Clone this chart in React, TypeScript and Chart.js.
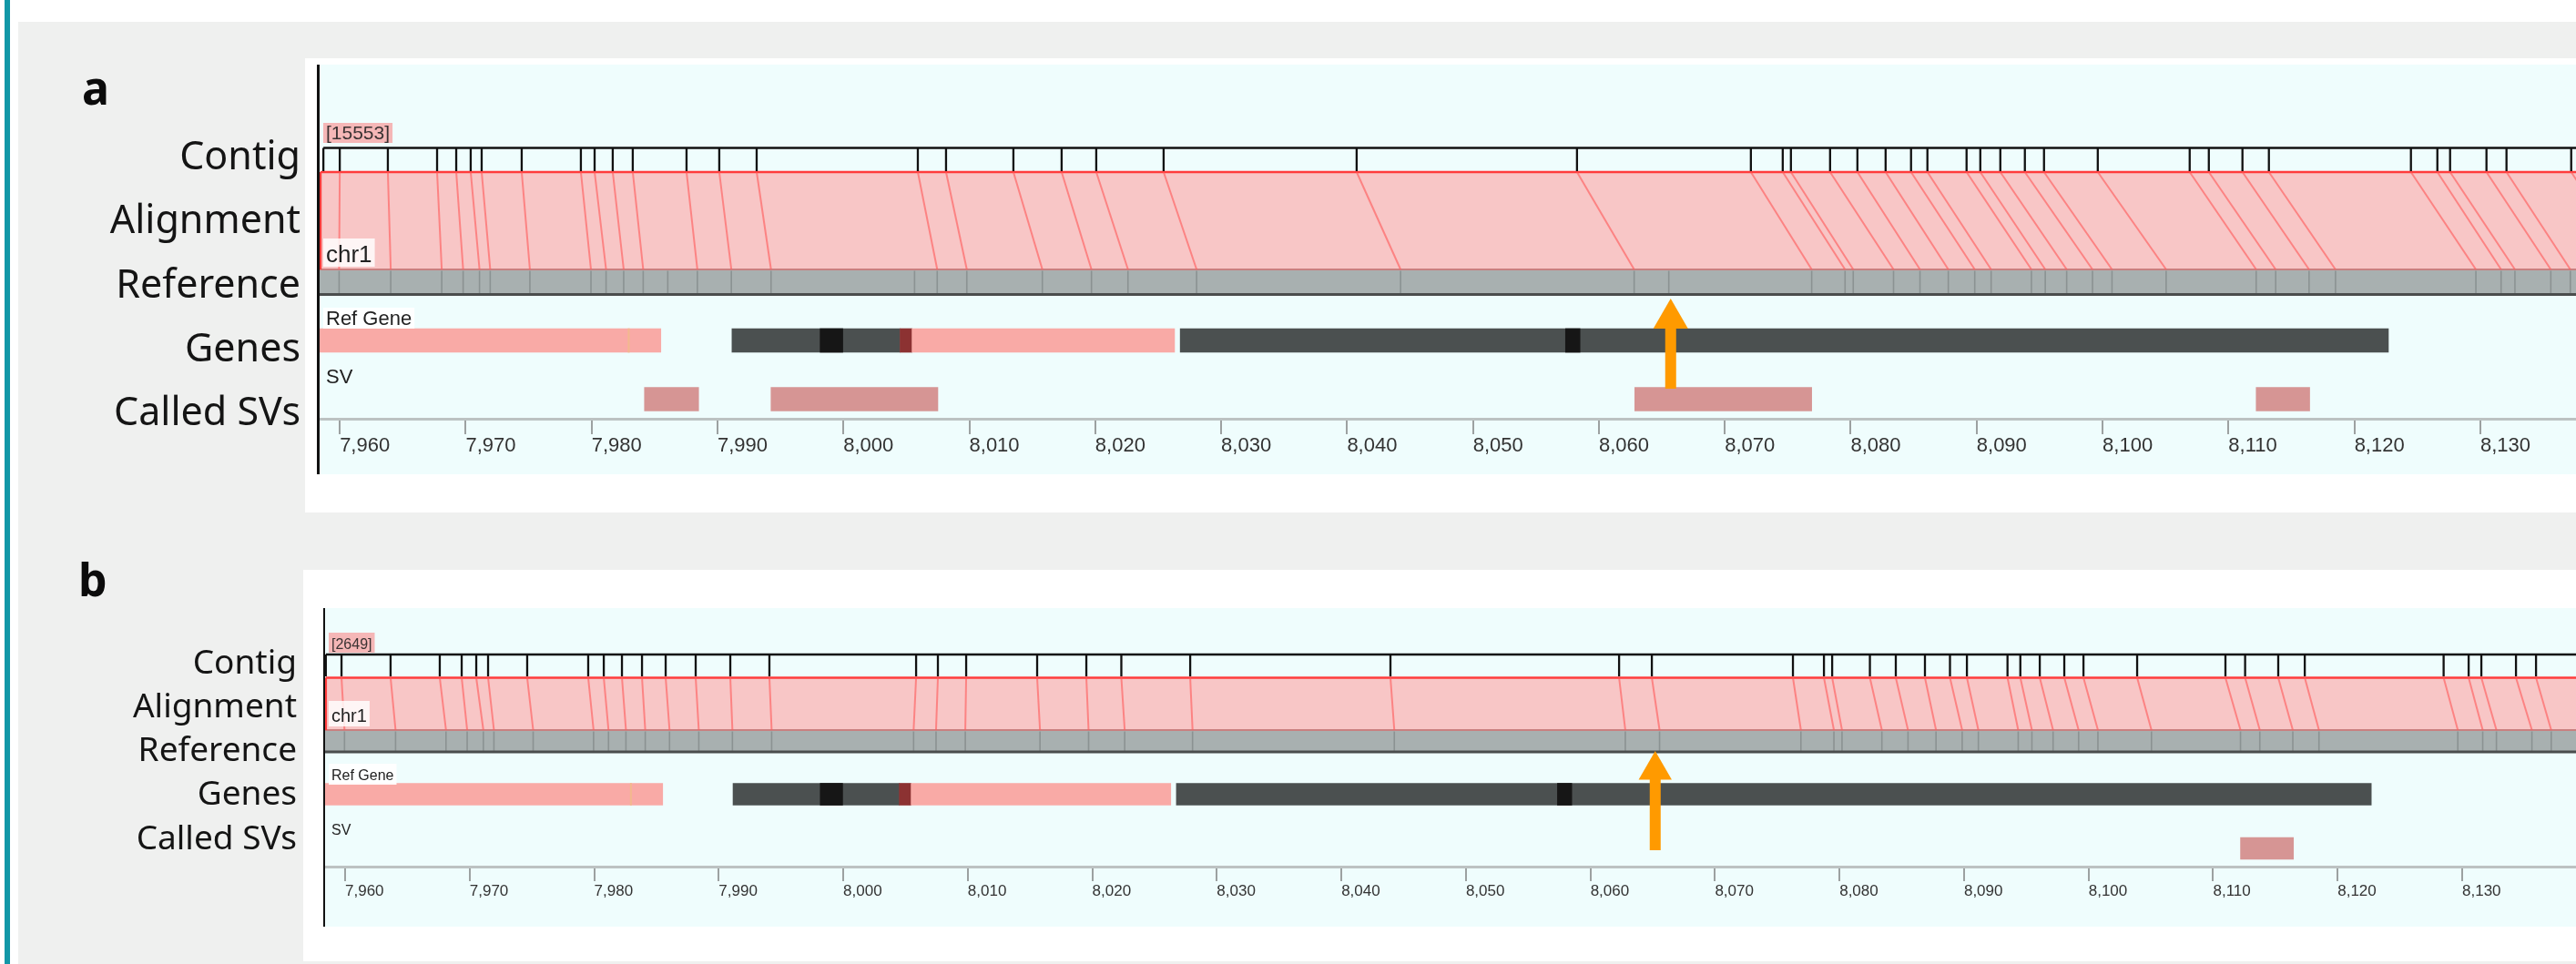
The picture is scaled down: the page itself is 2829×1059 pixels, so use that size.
import React, { useEffect, useRef } from 'react';
import { Chart, registerables } from 'chart.js';

Chart.register(...registerables);

// ---------------- data (positions in kb along chr1) ----------------
const trackNames = ['Contig', 'Alignment', 'Reference', 'Genes', 'Called SVs'];

// reference label sites (bottom of the alignment)
const refSites = [
  7959.95, 7964.05, 7968.1, 7969.8, 7971.1, 7971.95, 7975.1, 7979.95, 7981.15, 7982.55,
  7984.1, 7986.05, 7988.4, 7991.1, 7994.25, 8005.65, 8007.45, 8009.8, 8015.8, 8019.7,
  8022.6, 8028.05, 8044.25, 8062.8, 8065.55, 8076.9, 8079.55, 8080.2, 8083.4, 8085.5,
  8087.75, 8089.85, 8091.15, 8094.35, 8095.45, 8097.15, 8099.2, 8100.75, 8105.05, 8112.2,
  8113.75, 8116.4, 8118.5, 8129.65, 8131.65, 8132.75, 8135.6, 8137.15, 8142.3,
];
// matching contig label sites, panel a (null = site missing in contig)
const contigSitesA = [
  7960.0, 7963.82, 7967.73, 7969.25, 7970.4, 7971.27, 7974.45, 7979.15, 7980.24, 7981.68,
  7983.27, null, 7987.54, 7990.14, 7993.11, null, 8005.91, 8008.15, 8013.5, 8017.33,
  8020.08, 8025.43, 8040.76, 8058.26, null, 8072.07, 8074.6, 8075.25, 8078.36, 8080.53,
  8082.77, 8084.79, 8086.09, 8089.2, 8090.29, 8091.88, 8093.83, 8095.35, 8099.62, 8106.92,
  8108.44, 8111.11, 8113.21, 8124.49, 8126.59, 8127.6, 8130.49, 8132.08, 8137.22,
];
// matching contig label sites, panel b
const contigSitesB = [
  7959.71, 7963.65, 7967.6, 7969.36, 7970.53, 7971.48, 7974.62, 7979.52, 7980.77, 7982.23,
  7983.84, 7985.74, 7988.15, 7990.93, 7994.07, 8005.85, 8007.6, 8009.87, 8015.57, 8019.52,
  8022.33, 8027.86, 8043.94, 8062.3, 8064.93, 8076.26, 8078.75, 8079.41, 8082.44, 8084.52,
  8086.86, 8088.87, 8090.23, 8093.49, 8094.52, 8096.08, 8098.05, 8099.59, 8103.9, 8110.99,
  8112.57, 8115.23, 8117.36, 8128.51, 8130.52, 8131.54, 8134.32, 8135.93, null,
];
const contigStartA = 7958.7;
const contigStartB = 7958.45;
const alignStartA = 7958.47;
const alignStartB = 7958.45;
const contigIdA = '[15553]';
const contigIdB = '[2649]';

// Ref Gene features
const geneStarts = [7950.0, 7982.9, 7991.15, 7998.15, 8004.5, 8005.45, 8026.75, 8057.35];
const geneEnds = [7985.5, 7983.0, 8004.5, 7999.95, 8005.45, 8026.3, 8122.7, 8058.5];
const geneParts = ['utr', 'site', 'exon', 'cds', 'edge', 'utr', 'exon', 'cds'];

// called SVs
const svStartsA = [7984.2, 7994.25, 8062.85, 8112.2];
const svEndsA = [7988.5, 8007.5, 8076.9, 8116.45];
const svStartsB = [8112.2];
const svEndsB = [8116.45];

// highlighted site (arrow)
const arrowSiteA = 8065.7;
const arrowSiteB = 8065.2;

// visible windows
const viewA = [7958.4, 8137.6];
const viewB = [7958.39, 8139.14];

// ---------------- styles ----------------
const partColors: Record<string, string> = {
  utr: '#f9aaa6',
  site: '#f3b88e',
  exon: '#4b5050',
  cds: '#161616',
  edge: '#8c3232',
};
const SV_COLOR = '#d69594';
const ORANGE = '#ff9a00';

type Panel = any;

const PANEL_A: Panel = {
  letter: 'a', letterX: 90, letterBase: 115, letterSize: 50,
  canvasTop: 0, canvasHeight: 564,
  areaLeft: 351, areaTop: 71, areaBottom: 460, cyanBottom: 521, axisX: 349.5, axisW: 3,
  rowRight: 330, rowSize: 43, rowBases: [186, 256, 327, 397, 467],
  contigTop: 162.5, tickBottom: 188, alignTop: 189, alignBottom: 296,
  refTop: 296.5, refBottom: 322, refBottomLine: 323.5,
  geneMid: 374, svMid: 438.5, barThickness: 26,
  idX: 355, idTop: 135, idBottom: 157, idBase: 153, idFont: 21,
  chrX: 355, chrTop: 262, chrBottom: 293, chrBase: 288, chrFont: 26,
  glX: 355, glTop: 338, glBottom: 361, glBase: 357, glFont: 22,
  svX: 355, svBase: 421, svFont: 22,
  arrowTip: 328, arrowR: 22, arrowBottom: 427, shaftW: 12,
  tickLen: 17, tickFont: 22, tickPad: 0,
  view: viewA, contig: contigSitesA, contigStart: contigStartA, alignStart: alignStartA,
  svStarts: svStartsA, svEnds: svEndsA, arrow: arrowSiteA, contigId: contigIdA,
};

const PANEL_B: Panel = {
  letter: 'b', letterX: 86, letterBase: 655, letterSize: 50,
  canvasTop: 564, canvasHeight: 495,
  areaLeft: 357, areaTop: 668, areaBottom: 952, cyanBottom: 1018, axisX: 356, axisW: 2,
  rowRight: 326, rowSize: 37, rowBases: [740, 788, 836, 884, 933],
  contigTop: 719, tickBottom: 743, alignTop: 744.5, alignBottom: 802,
  refTop: 802.5, refBottom: 825, refBottomLine: 826,
  geneMid: 872.5, svMid: 932, barThickness: 24,
  idX: 361, idTop: 695, idBottom: 717, idBase: 713, idFont: 16,
  chrX: 361, chrTop: 770, chrBottom: 798, chrBase: 793, chrFont: 20,
  glX: 361, glTop: 839, glBottom: 862, glBase: 857, glFont: 16,
  svX: 361, svBase: 917, svFont: 16,
  arrowTip: 825, arrowR: 21, arrowBottom: 934, shaftW: 12,
  tickLen: 16, tickFont: 17, tickPad: 1,
  view: viewB, contig: contigSitesB, contigStart: contigStartB, alignStart: alignStartB,
  svStarts: svStartsB, svEnds: svEndsB, arrow: arrowSiteB, contigId: contigIdB,
};

const SANS = '"Liberation Sans", Arial, sans-serif';
const LABEL_FONT = '"Noto Sans", "Open Sans", sans-serif';

function lineDs(data: any[], color: string, width: number, order: number, extra: any = {}) {
  return {
    type: 'line',
    data,
    borderColor: color,
    borderWidth: width,
    pointRadius: 0,
    pointHoverRadius: 0,
    tension: 0,
    spanGaps: false,
    fill: false,
    borderCapStyle: 'butt',
    order,
    ...extra,
  };
}

function makeConfig(P: Panel) {
  const u = (py: number) => py - P.areaTop;
  const [xMin, xMax] = P.view;

  const contigTicks: any[] = [];
  [P.contigStart, ...P.contig.filter((c: any) => c !== null)].forEach((c: number) => {
    contigTicks.push({ x: c, y: u(P.contigTop) }, { x: c, y: u(P.tickBottom) }, { x: c, y: null });
  });

  const connectors: any[] = [];
  refSites.forEach((r, i) => {
    const c = P.contig[i];
    if (c === null || c === undefined) return;
    connectors.push({ x: c, y: u(P.alignTop) }, { x: r, y: u(P.alignBottom) }, { x: r, y: null });
  });

  const refLines: any[] = [];
  refSites.forEach((r) => {
    refLines.push({ x: r, y: u(P.refTop + 1) }, { x: r, y: u(P.refBottom) }, { x: r, y: null });
  });

  const feats: any[] = [];
  const featColors: string[] = [];
  geneStarts.forEach((s, i) => {
    feats.push({ x: [s, geneEnds[i]], y: u(P.geneMid) });
    featColors.push(partColors[geneParts[i]]);
  });
  P.svStarts.forEach((s: number, i: number) => {
    feats.push({ x: [s, P.svEnds[i]], y: u(P.svMid) });
    featColors.push(SV_COLOR);
  });

  const headCenter = P.arrowTip + P.arrowR;
  const headBase = headCenter + P.arrowR / 2;

  const datasets: any[] = [
    // alignment block
    lineDs(
      [{ x: P.alignStart, y: u(P.alignTop) }, { x: xMax + 5, y: u(P.alignTop) }],
      '#ff3c3c', 2.5, 100,
      { fill: { value: u(P.alignBottom) }, backgroundColor: '#f8c6c6' }
    ),
    // reference bar
    lineDs(
      [{ x: xMin - 5, y: u(P.refTop) }, { x: xMax + 5, y: u(P.refTop) }],
      'rgba(0,0,0,0)', 0, 98,
      { fill: { value: u(P.refBottom) }, backgroundColor: '#a8b0b0' }
    ),
    // genes + SVs
    {
      type: 'bar',
      indexAxis: 'y',
      data: feats,
      backgroundColor: featColors,
      borderWidth: 0,
      barThickness: P.barThickness,
      grouped: true,
      order: 90,
    },
    lineDs([{ x: xMin - 5, y: u(P.alignBottom) }, { x: xMax + 5, y: u(P.alignBottom) }], '#c98080', 2, 85),
    lineDs(refLines, '#8b9292', 1.6, 80),
    lineDs([{ x: P.alignStart, y: u(P.alignTop) }, { x: P.alignStart, y: u(P.alignBottom) }], '#ff3c3c', 2.5, 75),
    lineDs(connectors, 'rgba(255, 90, 90, 0.62)', 2, 70),
    lineDs([{ x: xMin - 5, y: u(P.refBottomLine) }, { x: xMax + 5, y: u(P.refBottomLine) }], '#4a4d4d', 3, 60),
    lineDs([{ x: P.contigStart, y: u(P.contigTop) }, { x: xMax + 5, y: u(P.contigTop) }], '#111111', 2.5, 50),
    lineDs(contigTicks, '#111111', 2.3, 45),
    lineDs([{ x: P.arrow, y: u(headBase - 1) }, { x: P.arrow, y: u(P.arrowBottom) }], ORANGE, P.shaftW, 20),
    {
      type: 'line',
      data: [{ x: P.arrow, y: u(headCenter) }],
      showLine: false,
      pointStyle: 'triangle',
      pointRadius: P.arrowR,
      pointHoverRadius: P.arrowR,
      pointBackgroundColor: ORANGE,
      pointBorderWidth: 0,
      pointBorderColor: ORANGE,
      order: 10,
    },
  ];

  const decor = {
    id: 'decor' + P.letter,
    beforeDraw(chart: any) {
      const ctx = chart.ctx;
      const ys = chart.scales.y;
      const Y = (py: number) => ys.getPixelForValue(u(py));
      const ca = chart.chartArea;
      ctx.save();
      ctx.fillStyle = '#effdfd';
      ctx.fillRect(ca.left, Y(P.areaTop), chart.width - ca.left, Y(P.cyanBottom) - Y(P.areaTop));
      ctx.restore();
    },
    afterDatasetsDraw(chart: any) {
      const ctx = chart.ctx;
      const ys = chart.scales.y;
      const Y = (py: number) => ys.getPixelForValue(u(py));
      const tag = (text: string, x: number, top: number, bottom: number, base: number, size: number, bg: string | null, color: string) => {
        ctx.font = `${size}px ${SANS}`;
        const w = ctx.measureText(text).width;
        const pad = 3;
        if (bg) {
          ctx.fillStyle = bg;
          ctx.fillRect(x, Y(top), w + pad * 2, Y(bottom) - Y(top));
        }
        ctx.fillStyle = color;
        ctx.textAlign = 'left';
        ctx.textBaseline = 'alphabetic';
        ctx.fillText(text, x + pad, Y(base));
      };
      ctx.save();
      tag(P.contigId, P.idX, P.idTop, P.idBottom, P.idBase, P.idFont, '#f5b7b7', '#3b3333');
      tag('chr1', P.chrX, P.chrTop, P.chrBottom, P.chrBase, P.chrFont, 'rgba(255,255,255,0.82)', '#222');
      tag('Ref Gene', P.glX, P.glTop, P.glBottom, P.glBase, P.glFont, 'rgba(255,255,255,0.92)', '#222');
      tag('SV', P.svX, 0, 0, P.svBase, P.svFont, null, '#222');
      ctx.restore();
    },
    afterDraw(chart: any) {
      const ctx = chart.ctx;
      const ys = chart.scales.y;
      const Y = (py: number) => ys.getPixelForValue(u(py));
      ctx.save();
      ctx.fillStyle = '#111';
      ctx.fillRect(P.axisX - P.axisW / 2, Y(P.areaTop), P.axisW, Y(P.cyanBottom) - Y(P.areaTop));
      ctx.fillStyle = '#141414';
      ctx.textAlign = 'right';
      ctx.textBaseline = 'alphabetic';
      ctx.font = `${P.rowSize}px ${LABEL_FONT}`;
      trackNames.forEach((name, i) => ctx.fillText(name, P.rowRight, Y(P.rowBases[i])));
      ctx.textAlign = 'left';
      ctx.fillStyle = '#0b0b0b';
      ctx.font = `bold ${P.letterSize}px ${LABEL_FONT}`;
      ctx.fillText(P.letter, P.letterX, Y(P.letterBase));
      ctx.restore();
    },
  };

  const scaleHeight = P.canvasTop + P.canvasHeight - P.areaBottom;

  return {
    type: 'line',
    data: { datasets },
    options: {
      responsive: false,
      maintainAspectRatio: false,
      animation: false,
      events: [],
      devicePixelRatio: 1,
      layout: { autoPadding: false, padding: { left: P.areaLeft, top: P.areaTop - P.canvasTop, right: 0, bottom: 0 } },
      plugins: { legend: { display: false }, tooltip: { enabled: false } },
      scales: {
        x: {
          type: 'linear',
          min: xMin,
          max: xMax,
          offset: false,
          beginAtZero: false,
          stacked: false,
          afterFit: (s: any) => { s.height = scaleHeight; },
          grid: { display: true, drawOnChartArea: false, drawTicks: true, tickLength: P.tickLen, color: '#9ca1a1', lineWidth: 2 },
          border: { display: true, color: '#bcc2c2', width: 3 },
          ticks: {
            stepSize: 10,
            includeBounds: false,
            autoSkip: false,
            maxRotation: 0,
            minRotation: 0,
            align: 'start',
            padding: P.tickPad,
            color: '#333',
            font: { family: SANS, size: P.tickFont },
            callback: (v: any) => Number(v).toLocaleString('en-US'),
          },
        },
        y: {
          type: 'linear',
          display: false,
          min: 0,
          max: P.areaBottom - P.areaTop,
          reverse: true,
          offset: false,
          beginAtZero: false,
        },
      },
    },
    plugins: [decor],
  };
}

function PanelChart({ P }: { P: Panel }) {
  const ref = useRef<HTMLCanvasElement>(null);
  useEffect(() => {
    const chart = new Chart(ref.current as HTMLCanvasElement, makeConfig(P) as any);
    return () => chart.destroy();
  }, [P]);
  return (
    <canvas
      ref={ref}
      width={2829}
      height={P.canvasHeight}
      style={{ position: 'absolute', left: 0, top: P.canvasTop, width: 2829, height: P.canvasHeight }}
    />
  );
}

export default function App() {
  useEffect(() => {
    document.body.style.margin = '0';
  }, []);
  return (
    <div style={{ position: 'absolute', left: 0, top: 0, width: 2829, height: 1059, background: '#ffffff', overflow: 'hidden' }}>
      <div style={{ position: 'absolute', left: 5, top: 0, width: 6, height: 1059, background: '#1297a7' }} />
      <div style={{ position: 'absolute', left: 20, top: 24, width: 2809, height: 1035, background: '#eff0ef' }} />
      <div style={{ position: 'absolute', left: 335, top: 64, width: 2494, height: 499, background: '#ffffff' }} />
      <div style={{ position: 'absolute', left: 333, top: 626, width: 2496, height: 430, background: '#ffffff' }} />
      <PanelChart P={PANEL_A} />
      <PanelChart P={PANEL_B} />
    </div>
  );
}
